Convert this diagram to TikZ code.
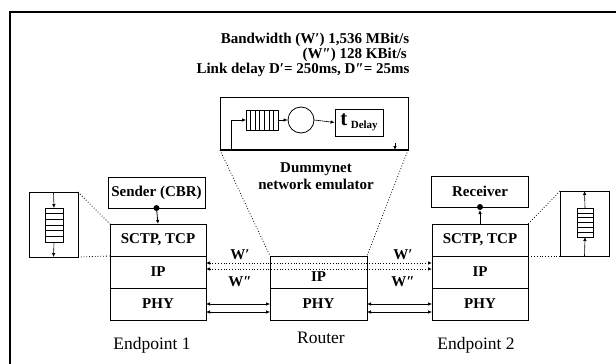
\documentclass[tikz,border=0pt]{standalone}
\usepackage{fontspec}
\setmainfont{Liberation Serif}
\usetikzlibrary{arrows.meta,calc,positioning}
\tikzset{
  layerbox/.style={draw,line width=0.8pt,outer sep=0pt,inner sep=0pt,minimum width=96pt,minimum height=32pt,font=\fontsize{15}{17}\selectfont\bfseries},
  appbox/.style={draw,line width=0.8pt,outer sep=0pt,inner sep=0pt,minimum width=97pt,minimum height=31pt,font=\fontsize{15}{17}\selectfont\bfseries},
  qframe/.style={draw,line width=0.8pt,outer sep=0pt,minimum width=49pt,minimum height=65pt},
  qcell/.style={draw,line width=0.7pt,outer sep=0pt,inner sep=0pt},
  qarr/.style={-{Latex[length=4pt,width=3.5pt]},line width=0.6pt},
  zoomline/.style={dotted,line width=0.8pt},
  dotlink/.style={{Latex[length=4pt,width=3.5pt]}-{Latex[length=4pt,width=3.5pt]},dotted,line width=0.8pt},
  phylink/.style={{Latex[length=4pt,width=3.5pt]}-{Latex[length=4pt,width=3.5pt]},line width=0.6pt},
  wlabel/.style={font=\fontsize{15}{17}\selectfont\bfseries,inner sep=0pt},
  toptext/.style={font=\fontsize{15}{17}\selectfont\bfseries,inner sep=0pt},
  hostname/.style={font=\fontsize{17.5}{20}\selectfont,inner sep=0pt}
}
\begin{document}
\begin{tikzpicture}[x=1pt,y=-1pt,>=Latex]
  \useasboundingbox (0,0) rectangle (616,364);
  \draw[line width=1.3pt] (10,364) -- (10,12) -- (616,12);

  % link parameters
  \node[toptext] (bwA) at (315,40) {Bandwidth (W′) 1,536 MBit/s};
  \node[toptext,anchor=east] (bwB) at (407,55) {(W″) 128 KBit/s};
  \node[toptext] (dly) at (303,70) {Link delay D′= 250ms, D″= 25ms};

  % dummynet pipe
  \node[draw,line width=0.8pt,outer sep=0pt,minimum width=188pt,minimum height=53pt] (dummy) at (314,123.5) {};
  \draw[line width=1.4pt] (dummy.south west) -- (dummy.south east);
  \node[qcell,minimum width=32pt,minimum height=20pt] (qD) at (262,120) {};
  \foreach \k in {1,...,6} \draw[line width=0.6pt] ($(qD.north west)+(\k*32/7,0)$) -- ++(0,20);
  \node[draw,circle,line width=0.8pt,minimum size=26pt,inner sep=0pt] (srv) at (301,120) {};
  \node[draw,line width=0.8pt,minimum width=48pt,minimum height=27pt,inner sep=0pt] (tdel) at (359,122.5)
    {\fontsize{21}{21}\selectfont\bfseries t\,\raisebox{-3pt}{\fontsize{11}{11}\selectfont Delay}};
  \coordinate (fbk) at (231,150);
  \coordinate (pout) at (395,143);
  \draw[qarr] (fbk) |- (qD.west);
  \draw[qarr] (qD.east) -- (srv.west);
  \draw[qarr] (srv.east) -- (tdel.west);
  \draw[qarr] (pout) -- (pout |- dummy.south);
  \node[toptext,align=center] (dlabel) at (316,176) {Dummynet\\network emulator};

  % endpoint 1
  \node[appbox] (sender) at (156.5,192.5) {Sender (CBR)};
  \node[layerbox] (sctpA) at (158,240) {SCTP, TCP};
  \node[layerbox,below=0pt of sctpA] (ipA) {IP};
  \node[layerbox,below=0pt of ipA] (phyA) {PHY};
  \draw[qarr,line width=0.8pt] (sender.south) -- (sctpA.north);
  \fill (sender.south) circle (3pt);

  % router
  \node[layerbox,minimum width=97pt] (ipR) at (318.5,272) {\raisebox{-9pt}[0pt][0pt]{IP}};
  \node[layerbox,minimum width=97pt,below=0pt of ipR] (phyR) {PHY};

  % endpoint 2
  \node[appbox] (receiver) at (480,191.5) {Receiver};
  \node[layerbox] (sctpB) at (480,240) {SCTP, TCP};
  \node[layerbox,below=0pt of sctpB] (ipB) {IP};
  \node[layerbox,below=0pt of ipB] (phyB) {PHY};
  \draw[qarr,line width=0.8pt] (sctpB.north) -- ([yshift=-3pt]receiver.south);
  \fill (receiver.south) circle (3pt);

  % socket buffers
  \node[qframe] (qboxA) at (53.5,224.5) {};
  \node[qcell,minimum width=18pt,minimum height=34pt] (qA) at (54,225) {};
  \foreach \k in {1,...,5} \draw[line width=0.6pt] ($(qA.north west)+(0,\k*34/6)$) -- ++(18,0);
  \draw[qarr] (qboxA.north) -- (qA.north);
  \draw[qarr] (qA.south) -- (qboxA.south);
  \node[qframe] (qboxB) at (584.5,223.5) {};
  \node[qcell,minimum width=16pt,minimum height=29pt] (qB) at (585,222.5) {};
  \foreach \k in {1,...,5} \draw[line width=0.6pt] ($(qB.north west)+(0,\k*29/6)$) -- ++(16,0);
  \draw[qarr] (qboxB.south) -- (qB.south);
  \draw[qarr] (qB.north) -- (qboxB.north);

  % zoom guides
  \draw[zoomline] (qboxA.north east) -- (sctpA.north west);
  \draw[zoomline] (qboxA.south east) -- (sctpA.south west);
  \draw[zoomline] (qboxB.north west) -- (sctpB.north east);
  \draw[zoomline] (qboxB.south west) -- (sctpB.south east);
  \draw[zoomline] (dummy.south west) -- (ipR.north west);
  \draw[zoomline] (dummy.south east) -- (ipR.north east);

  % links
  \draw[dotlink] ([yshift=-7pt]ipA.north east) -- ([yshift=-7pt]ipB.north west);
  \draw[dotlink] ([yshift=-13pt]ipA.north east) -- ([yshift=-13pt]ipB.north west);
  \draw[phylink] ([yshift=-16pt]phyA.north east) -- ([yshift=-16pt]phyR.north west);
  \draw[phylink] ([yshift=-24pt]phyA.north east) -- ([yshift=-24pt]phyR.north west);
  \draw[phylink] ([yshift=-16pt]phyR.north east) -- ([yshift=-16pt]phyB.north west);
  \draw[phylink] ([yshift=-24pt]phyR.north east) -- ([yshift=-24pt]phyB.north west);
  \node[wlabel] (wA1) at (240,255) {W′};
  \node[wlabel] (wA2) at (240,282) {W″};
  \node[wlabel] (wB1) at (403,255) {W′};
  \node[wlabel] (wB2) at (403,282) {W″};

  \node[hostname] (epA) at (152,345) {Endpoint 1};
  \node[hostname] (rtr) at (321,338) {Router};
  \node[hostname] (epB) at (476,345) {Endpoint 2};
\end{tikzpicture}
\end{document}
